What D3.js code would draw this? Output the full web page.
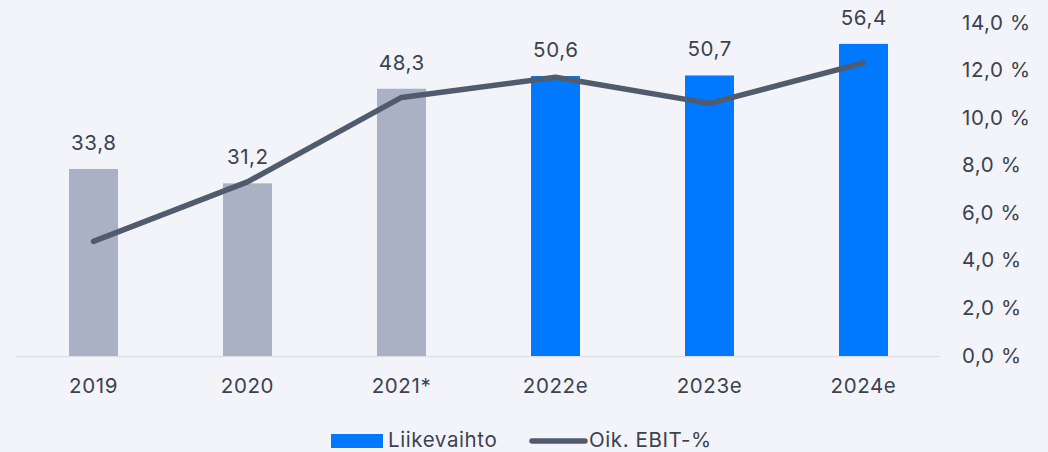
<!DOCTYPE html>
<html><head><meta charset="utf-8">
<script src="https://cdn.jsdelivr.net/npm/d3@7"></script>
<style>
html,body{margin:0;padding:0;background:#f3f4f9;}
svg{display:block;font-family:Inter,sans-serif;}
svg text{letter-spacing:0.6px;}
</style></head><body>
<div id="chart"></div>
<script>
const categories = ["2019","2020","2021*","2022e","2023e","2024e"];
const revenue = [33.8, 31.2, 48.3, 50.6, 50.7, 56.4];
const revenueLabels = ["33,8","31,2","48,3","50,6","50,7","56,4"];
const ebitPct = [4.8, 7.3, 10.85, 11.7, 10.6, 12.3];
const estimate = [false, false, false, true, true, true];
const pctTicks = [0,2,4,6,8,10,12,14];
const legendItems = ["Liikevaihto","Oik. EBIT-%"];

const W = 1048, H = 452;
const FONT = "Inter,sans-serif";
const FS = 20.5;
const svg = d3.select("#chart").append("svg").attr("width", W).attr("height", H);
svg.append("rect").attr("width", W).attr("height", H).attr("fill", "#f3f4f9");

const x = d3.scaleBand().domain(categories).range([16.5, 940.5]).paddingInner(0.682).paddingOuter(0.341);
const yL = d3.scaleLinear().domain([0, 60]).range([356, 24]);
const yR = d3.scaleLinear().domain([0, 14]).range([355.5, 22.5]);
const textColor = "#3b4250";

// baseline
svg.append("line").attr("x1", 16).attr("x2", 940).attr("y1", 356.5).attr("y2", 356.5)
  .attr("stroke", "#dde0e8").attr("stroke-width", 1.5);

// bars
svg.selectAll("rect.bar").data(categories).enter().append("rect")
  .attr("class", "bar")
  .attr("x", d => x(d))
  .attr("width", x.bandwidth())
  .attr("y", (d, i) => yL(revenue[i]))
  .attr("height", (d, i) => yL(0) - yL(revenue[i]))
  .attr("fill", (d, i) => estimate[i] ? "#0078ff" : "#abb1c4");

// value labels
svg.selectAll("text.val").data(categories).enter().append("text")
  .attr("x", d => x(d) + x.bandwidth() / 2 + 0.3)
  .attr("y", (d, i) => yL(revenue[i]) - 19)
  .attr("text-anchor", "middle")
  .attr("font-size", FS).attr("fill", textColor)
  .text((d, i) => revenueLabels[i]);

// line
const line = d3.line().x((d, i) => x(categories[i]) + x.bandwidth() / 2).y(d => yR(d));
svg.append("path").datum(ebitPct).attr("d", line)
  .attr("fill", "none").attr("stroke", "#515b6e").attr("stroke-width", 5.5)
  .attr("stroke-linecap", "round").attr("stroke-linejoin", "round");

// x axis
const xAxis = svg.append("g").attr("transform", "translate(0,356)")
  .call(d3.axisBottom(x).tickSize(0).tickPadding(22));
xAxis.select(".domain").remove();
xAxis.selectAll("text").attr("font-size", FS).attr("fill", textColor).attr("font-family", FONT);

// right axis
const fmt = d => d.toFixed(1).replace(".", ",") + " %";
const yAxis = svg.append("g").attr("transform", "translate(962,0)")
  .call(d3.axisRight(yR).tickValues(pctTicks).tickFormat(fmt).tickSize(0).tickPadding(0));
yAxis.select(".domain").remove();
yAxis.selectAll("text").attr("font-size", FS).attr("fill", textColor).attr("font-family", FONT);

// legend
const lg = svg.append("g");
lg.append("rect").attr("x", 331).attr("y", 434).attr("width", 52).attr("height", 14).attr("fill", "#0078ff");
lg.append("text").attr("x", 388).attr("y", 447).attr("font-size", FS).attr("fill", textColor).text(legendItems[0]);
lg.append("line").attr("x1", 532).attr("x2", 585).attr("y1", 441).attr("y2", 441)
  .attr("stroke", "#515b6e").attr("stroke-width", 5.5).attr("stroke-linecap", "round");
lg.append("text").attr("x", 589).attr("y", 447).attr("font-size", FS).attr("fill", textColor).text(legendItems[1]);
</script>
</body></html>
